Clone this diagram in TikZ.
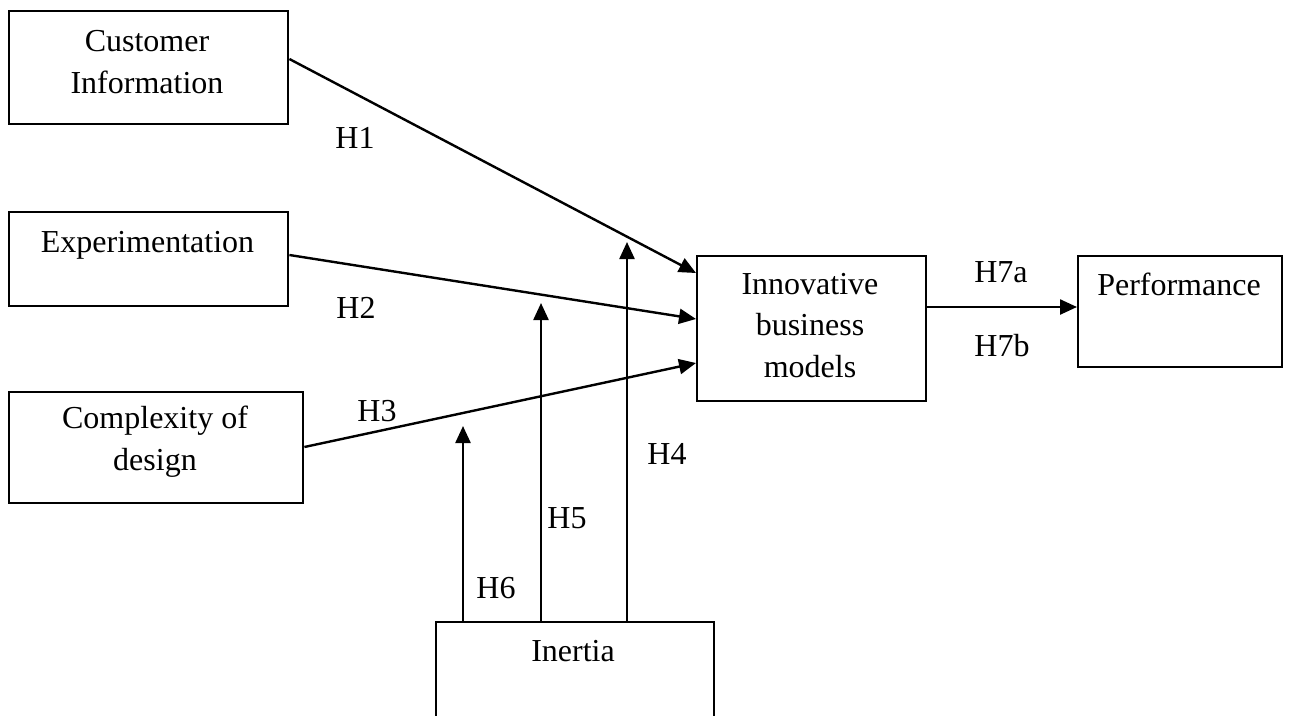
\documentclass[tikz,border=0pt]{standalone}
\usepackage{fontspec}
\setmainfont{Liberation Serif}
\usetikzlibrary{arrows.meta}
\begin{document}
\begin{tikzpicture}[x=1pt,y=-1pt,
  box/.style={draw, line width=2.4pt, inner sep=0pt, anchor=north west},
  txt/.style={font=\fontsize{32}{41.5}\selectfont, align=center, anchor=base, inner sep=0pt},
  lbl/.style={font=\fontsize{32}{40}\selectfont, inner sep=0pt},
  link/.style={line width=2.4pt, -{Triangle[length=17pt,width=15pt]}}]
\useasboundingbox (0,0) rectangle (1290,715);
\clip (0,0) rectangle (1290,715);
\fill[white] (0,0) rectangle (1290,715);
% boxes
\node[box, minimum width=279pt, minimum height=113pt] (ci) at (8,10) {};
\node[box, minimum width=279pt, minimum height=94pt] (ex) at (8,211) {};
\node[box, minimum width=294pt, minimum height=111pt] (cd) at (8,391) {};
\node[box, minimum width=229pt, minimum height=145pt] (ibm) at (696,255) {};
\node[box, minimum width=204pt, minimum height=111pt] (perf) at (1077,255) {};
\node[box, minimum width=278pt, minimum height=140pt] (in) at (435,621) {};
% box texts (base anchor = baseline of last line)
\node[txt] (tci) at (147,93) {Customer\\Information};
\node[txt] (tex) at (147.5,252) {Experimentation};
\node[txt] (tcd) at (155,470) {Complexity of\\design};
\node[txt] (tibm) at (810,377) {Innovative\\business\\models};
\node[txt] (tperf) at (1179,295) {Performance};
\node[txt] (tin) at (573,661) {Inertia};
% connectors
\draw[link] (ci.east |- 0,59) -- (ibm.west |- 0,273);
\draw[link] (ex.east |- 0,255) -- (ibm.west |- 0,319);
\draw[link] (cd.east |- 0,447) -- (ibm.west |- 0,363);
\draw[link] (ibm.east |- 0,307) -- (perf.west |- 0,307);
\coordinate (t4) at (627,242);
\coordinate (t5) at (541,303);
\coordinate (t6) at (463,426);
\draw[link] (in.north -| t4) -- (t4);
\draw[link] (in.north -| t5) -- (t5);
\draw[link] (in.north -| t6) -- (t6);
% labels
\node[lbl] (h1) at (355,138) {H1};
\node[lbl] (h2) at (356,308) {H2};
\node[lbl] (h3) at (377,411) {H3};
\node[lbl] (h4) at (667,454) {H4};
\node[lbl] (h5) at (567,518) {H5};
\node[lbl] (h6) at (496,588) {H6};
\node[lbl] (h7a) at (1001,272) {H7a};
\node[lbl] (h7b) at (1002,346) {H7b};
\end{tikzpicture}
\end{document}
